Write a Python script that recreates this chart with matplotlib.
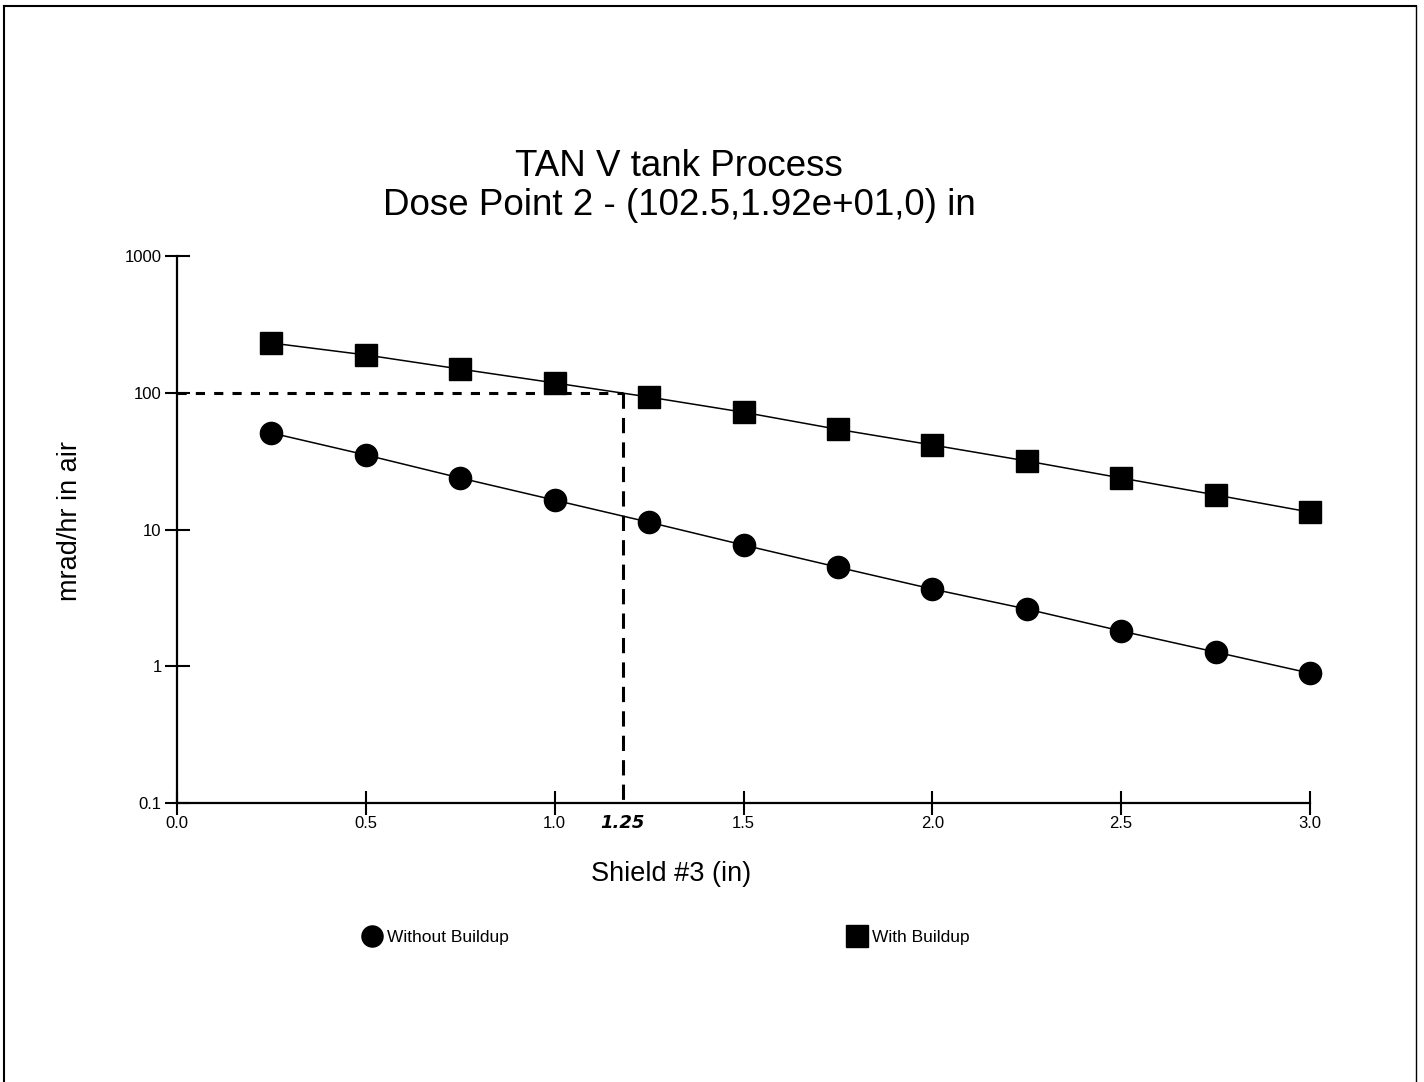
import numpy as np
import matplotlib
matplotlib.use("Agg")
import matplotlib.pyplot as plt
from matplotlib.lines import Line2D

plt.rcParams['font.family'] = ['Liberation Sans', 'DejaVu Sans']

# Shield thickness (in)
shield = [0.25, 0.5, 0.75, 1.0, 1.25, 1.5, 1.75, 2.0, 2.25, 2.5, 2.75, 3.0]
# dose rates (mrad/hr in air)
with_buildup = [231, 189, 149, 118, 93, 72, 54, 41.5, 31.7, 23.8, 17.9, 13.4]
without_buildup = [50.8, 35.1, 23.8, 16.4, 11.3, 7.7, 5.3, 3.67, 2.62, 1.81, 1.27, 0.89]

# dashed read-off line
target_dose = 100
cut_x = 1.18
cut_label = "1.25"

yticks = [0.1, 1, 10, 100, 1000]
ytick_labels = ["0.1", "1", "10", "100", "1000"]
xticks = [0.0, 0.5, 1.0, 1.5, 2.0, 2.5, 3.0]

fig = plt.figure(figsize=(14.24, 10.82), dpi=100)
ax = fig.add_axes([177/1424, 1-803/1082, (1310-177)/1424, (803-256)/1082])

l1, = ax.plot(shield, without_buildup, color='black', lw=1.1, marker='o', ms=16,
              clip_on=False, label='Without Buildup')
l2, = ax.plot(shield, with_buildup, color='black', lw=1.1, marker='s', ms=16,
              clip_on=False, label='With Buildup')

ax.plot([0, cut_x], [target_dose, target_dose], color='black', lw=2.2,
        linestyle=(0, (3, 3)))
ax.plot([cut_x, cut_x], [target_dose, 0.1], color='black', lw=2.2,
        linestyle=(0, (5, 3)))

ax.set_yscale('log')
ax.set_xlim(0, 3.0)
ax.set_ylim(0.1, 1000)
ax.set_yticks(yticks)
ax.set_yticklabels(ytick_labels)
ax.minorticks_off()
ax.set_xticks(xticks)
ax.set_xticklabels([f"{t:.1f}" for t in xticks])
ax.tick_params(direction='inout', length=18, width=1.5, labelsize=12, pad=2)
ax.tick_params(axis='x', length=17, pad=1)

for s in ['top', 'right']:
    ax.spines[s].set_visible(False)
for s in ['left', 'bottom']:
    ax.spines[s].set_linewidth(1.6)

ax.text(cut_x, -0.036, cut_label, transform=ax.get_xaxis_transform(),
        ha='center', va='center', fontsize=13, fontstyle='italic',
        fontweight='bold', family=['DejaVu Sans'])

fig.text(679/1424, 1-186/1082, "TAN V tank Process\nDose Point 2 - (102.5,1.92e+01,0) in",
         ha='center', va='center', fontsize=26.5, linespacing=1.12)
fig.text(671/1424, 1-874/1082, "Shield #3 (in)", ha='center', va='center', fontsize=19.5)
fig.text(70/1424, 1-521/1082, "mrad/hr in air", ha='center', va='center',
         rotation=90, fontsize=19.5)

# legend entries placed separately
for handle, xpos in [(l1, 363), (l2, 848)]:
    leg = fig.legend(handles=[handle], loc='center left',
                     bbox_to_anchor=(xpos/1424, 1-937/1082),
                     frameon=False, fontsize=12.5, handlelength=1.0,
                     handletextpad=0.4, borderpad=0, borderaxespad=0,
                     markerscale=0.95)
    for h in leg.legend_handles:
        h.set_linestyle('none')

# page border
fig.add_artist(Line2D([4/1424, 4/1424], [0, 1-6/1082], color='black', lw=1.5,
                      transform=fig.transFigure))
fig.add_artist(Line2D([4/1424, 1416/1424], [1-6/1082, 1-6/1082], color='black', lw=1.5,
                      transform=fig.transFigure))
fig.add_artist(Line2D([1416/1424, 1416/1424], [0, 1-6/1082], color='black', lw=1.0,
                      transform=fig.transFigure))

fig.savefig("out.png", dpi=100)
